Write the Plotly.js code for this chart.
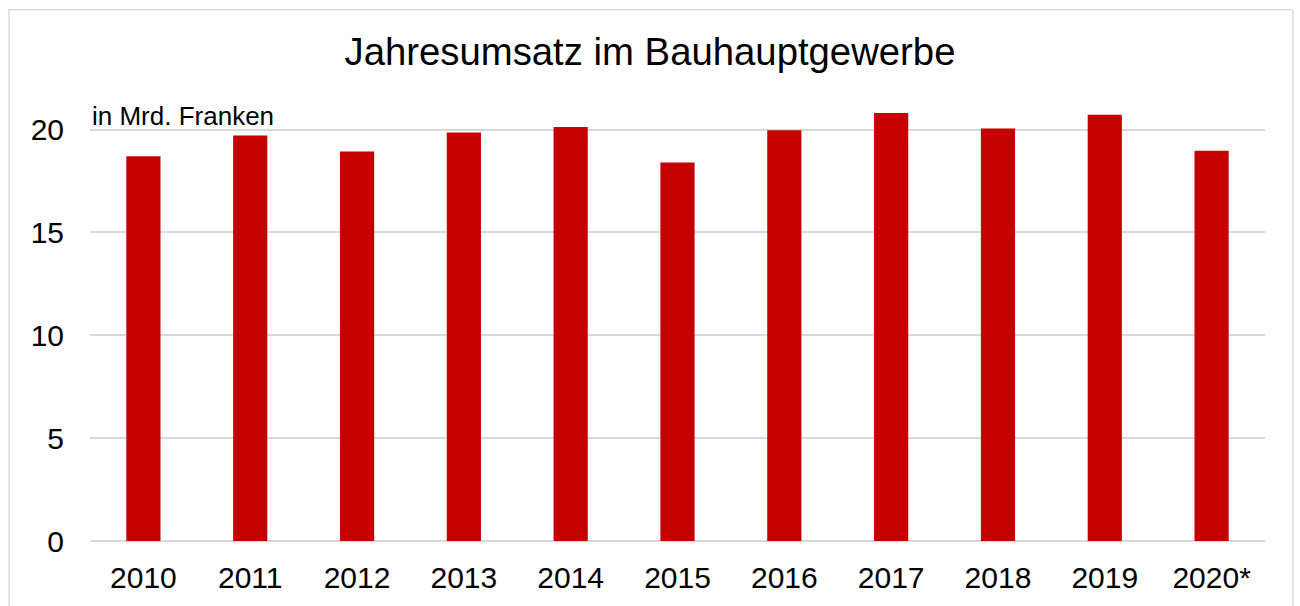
<!DOCTYPE html>
<html><head><meta charset="utf-8">
<script src="https://cdn.plot.ly/plotly-3.0.1.min.js"></script>
<style>html,body{margin:0;padding:0;background:#fff;}#chart{width:1300px;height:606px;}</style>
</head><body><div id="chart"></div>
<script>
const years = ['2010','2011','2012','2013','2014','2015','2016','2017','2018','2019','2020*'];
const umsatz = [18.70, 19.71, 18.94, 19.86, 20.12, 18.40, 19.97, 20.80, 20.05, 20.72, 18.97];
const yTicks = [0, 5, 10, 15, 20];

const trace = {
  type: 'bar', x: years, y: umsatz,
  marker: {color: '#C40000'},
  hoverinfo: 'x+y'
};
const layout = {
  width: 1300, height: 606,
  margin: {l: 90, r: 35, t: 108.5, b: 64.5},
  paper_bgcolor: '#fff', plot_bgcolor: '#fff',
  bargap: 0.68,
  showlegend: false,
  font: {family: 'Liberation Sans, Arial, sans-serif', color: '#000'},
  title: {text: 'Jahresumsatz im Bauhauptgewerbe', font: {size: 38.3, color: '#000'}, x: 0.5, xanchor: 'center', y: 0.915, yanchor: 'middle'},
  xaxis: {type: 'category', tickfont: {size: 30}, showgrid: false, zeroline: false, ticks: '', ticklabelstandoff: 16, showline: false},
  yaxis: {range: [0, 21], tickvals: yTicks, ticktext: yTicks.map(String), tickfont: {size: 30}, showgrid: true, gridcolor: '#d9d9d9', gridwidth: 2, zeroline: true, zerolinecolor: '#d9d9d9', zerolinewidth: 2, ticks: '', ticklabelstandoff: 25, showline: false},
  annotations: [{text: 'in Mrd. Franken', xref: 'paper', yref: 'paper', x: 0.0, y: 0.983, xanchor: 'left', yanchor: 'middle', showarrow: false, font: {size: 26, color: '#000'}}],
  shapes: [{type: 'rect', xref: 'paper', yref: 'paper', x0: -0.0689, x1: 1.0238, y0: -0.3, y1: 1.2298, line: {color: '#d9d9d9', width: 1.5}, fillcolor: 'rgba(0,0,0,0)', layer: 'below'}]
};
Plotly.newPlot('chart', [trace], layout, {displayModeBar: false, staticPlot: true});
</script></body></html>
